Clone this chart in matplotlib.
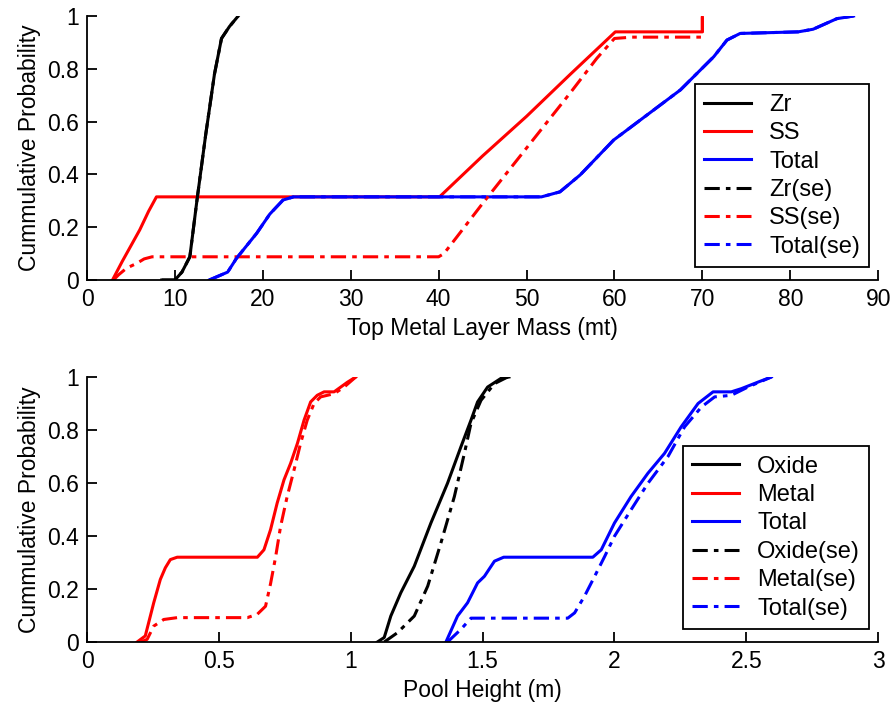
import matplotlib
matplotlib.use("Agg")
import matplotlib.pyplot as plt

plt.rcParams['font.family'] = ['Liberation Sans', 'DejaVu Sans']

# ---- top panel: top metal layer mass (mt) ----
zr_x = [8.5, 10.0, 10.8, 11.7, 12.5, 13.5, 14.5, 15.3, 16.2, 17.2]
zr_y = [0.0, 0.0, 0.03, 0.088, 0.3, 0.55, 0.78, 0.915, 0.96, 1.0]

ss_x = [2.9, 4.0, 5.0, 6.0, 7.0, 7.9, 40.1, 45.0, 50.0, 55.0, 60.1, 70.0, 70.0]
ss_y = [0.0, 0.07, 0.13, 0.19, 0.26, 0.315, 0.315, 0.47, 0.62, 0.78, 0.94, 0.94, 1.0]

tot_x = [13.9, 16.0, 17.0, 19.3, 20.8, 22.3, 23.5, 51.7, 53.8, 56.1, 59.9, 63.7,
         67.5, 71.3, 72.8, 74.3, 80.9, 82.6, 85.3, 87.2]
tot_y = [0.0, 0.03, 0.082, 0.177, 0.25, 0.303, 0.315, 0.315, 0.334, 0.398, 0.53,
         0.625, 0.72, 0.846, 0.909, 0.934, 0.94, 0.95, 0.99, 1.0]

zr_se_x = zr_x
zr_se_y = zr_y

ss_se_x = [3.0, 3.6, 4.5, 5.65, 6.5, 7.4, 40.0, 40.6, 42.0, 45.0, 50.0, 55.0,
           58.0, 60.0, 62.0, 70.0, 70.0]
ss_se_y = [0.0, 0.02, 0.045, 0.063, 0.08, 0.088, 0.088, 0.1, 0.16, 0.29, 0.5,
           0.71, 0.84, 0.915, 0.92, 0.92, 1.0]

tot_se_x = tot_x
tot_se_y = tot_y

# ---- bottom panel: pool height (m) ----
ox_x = [1.101, 1.127, 1.152, 1.19, 1.241, 1.304, 1.367, 1.418, 1.456, 1.481,
        1.519, 1.57, 1.60]
ox_y = [0.0, 0.017, 0.098, 0.186, 0.286, 0.449, 0.599, 0.737, 0.837, 0.906,
        0.962, 0.995, 1.0]

me_x = [0.19, 0.221, 0.253, 0.278, 0.297, 0.316, 0.342, 0.646, 0.671, 0.696,
        0.721, 0.747, 0.772, 0.798, 0.823, 0.848, 0.873, 0.899, 0.937, 0.962,
        0.987, 1.019]
me_y = [0.0, 0.023, 0.148, 0.236, 0.28, 0.311, 0.32, 0.32, 0.348, 0.424, 0.524,
        0.612, 0.674, 0.75, 0.837, 0.906, 0.931, 0.944, 0.944, 0.962, 0.98, 1.0]

to_x = [1.361, 1.405, 1.443, 1.481, 1.507, 1.545, 1.58, 1.918, 1.95, 2.0, 2.063,
        2.127, 2.19, 2.253, 2.317, 2.374, 2.443, 2.481, 2.545, 2.595]
to_y = [0.0, 0.098, 0.148, 0.223, 0.248, 0.305, 0.32, 0.32, 0.348, 0.449, 0.549,
        0.637, 0.712, 0.812, 0.9, 0.944, 0.944, 0.956, 0.981, 1.0]

ox_se_x = [1.127, 1.177, 1.241, 1.292, 1.342, 1.393, 1.431, 1.456, 1.494, 1.545,
           1.595]
ox_se_y = [0.0, 0.035, 0.098, 0.211, 0.374, 0.549, 0.712, 0.825, 0.912, 0.975, 1.0]

me_se_x = [0.203, 0.228, 0.253, 0.291, 0.342, 0.608, 0.646, 0.677, 0.696, 0.715,
           0.734, 0.759, 0.785, 0.81, 0.835, 0.861, 0.886, 0.937, 0.975, 1.019]
me_se_y = [0.0, 0.01, 0.06, 0.085, 0.092, 0.092, 0.105, 0.135, 0.22, 0.32, 0.436,
           0.549, 0.649, 0.75, 0.837, 0.9, 0.925, 0.937, 0.962, 1.0]

to_se_x = [1.367, 1.418, 1.456, 1.823, 1.849, 1.887, 1.925, 1.963, 2.0, 2.063,
           2.127, 2.203, 2.266, 2.33, 2.38, 2.443, 2.506, 2.595]
to_se_y = [0.0, 0.048, 0.09, 0.09, 0.11, 0.174, 0.248, 0.323, 0.399, 0.499, 0.599,
           0.7, 0.812, 0.887, 0.925, 0.931, 0.962, 1.0]

top_labels = ['Zr', 'SS', 'Total', 'Zr(se)', 'SS(se)', 'Total(se)']
bot_labels = ['Oxide', 'Metal', 'Total', 'Oxide(se)', 'Metal(se)', 'Total(se)']
yticks = [0, 0.2, 0.4, 0.6, 0.8, 1]
ytick_labels = ['0', '0.2', '0.4', '0.6', '0.8', '1']
top_xticks = [0, 10, 20, 30, 40, 50, 60, 70, 80, 90]
bot_xticks = [0, 0.5, 1, 1.5, 2, 2.5, 3]
bot_xtick_labels = ['0', '0.5', '1', '1.5', '2', '2.5', '3']

dashdot = (0, (5, 2, 1.5, 2))
lw = 2.2
fs = 16.5

fig = plt.figure(figsize=(8.96, 7.12), dpi=100)
ax1 = fig.add_axes([0.0971, 0.6067, 0.883, 0.3708])
ax2 = fig.add_axes([0.0971, 0.0983, 0.883, 0.3722])

ax1.plot(zr_x, zr_y, color='black', lw=lw, label=top_labels[0])
ax1.plot(ss_x, ss_y, color='red', lw=lw, label=top_labels[1])
ax1.plot(tot_x, tot_y, color='blue', lw=lw, label=top_labels[2])
ax1.plot(zr_se_x, zr_se_y, color='black', lw=lw, ls=dashdot, label=top_labels[3])
ax1.plot(ss_se_x, ss_se_y, color='red', lw=lw, ls=dashdot, label=top_labels[4])
ax1.plot(tot_se_x, tot_se_y, color='blue', lw=lw, ls=dashdot, label=top_labels[5])
ax1.set_xlim(0, 90)
ax1.set_xticks(top_xticks)
ax1.set_xlabel('Top Metal Layer Mass (mt)', fontsize=fs)

ax2.plot(ox_x, ox_y, color='black', lw=lw, label=bot_labels[0])
ax2.plot(me_x, me_y, color='red', lw=lw, label=bot_labels[1])
ax2.plot(to_x, to_y, color='blue', lw=lw, label=bot_labels[2])
ax2.plot(ox_se_x, ox_se_y, color='black', lw=lw, ls=dashdot, label=bot_labels[3])
ax2.plot(me_se_x, me_se_y, color='red', lw=lw, ls=dashdot, label=bot_labels[4])
ax2.plot(to_se_x, to_se_y, color='blue', lw=lw, ls=dashdot, label=bot_labels[5])
ax2.set_xlim(0, 3)
ax2.set_xticks(bot_xticks)
ax2.set_xticklabels(bot_xtick_labels)
ax2.set_xlabel('Pool Height (m)', fontsize=fs)

for ax in (ax1, ax2):
    ax.set_ylim(0, 1)
    ax.set_yticks(yticks)
    ax.set_yticklabels(ytick_labels)
    ax.set_ylabel('Cummulative Probability', fontsize=fs, labelpad=4)
    ax.spines['top'].set_visible(False)
    ax.spines['right'].set_visible(False)
    ax.spines['left'].set_linewidth(1.3)
    ax.spines['bottom'].set_linewidth(1.3)
    ax.tick_params(direction='in', length=7, width=1.3, labelsize=fs, pad=6)
    leg = ax.legend(loc='lower right', bbox_to_anchor=(0.989, 0.049),
                    borderaxespad=0, fancybox=False, framealpha=1,
                    edgecolor='black', fontsize=17, handlelength=2.0,
                    handletextpad=0.75, labelspacing=0.27, borderpad=0.4)
    leg.get_frame().set_linewidth(1.3)

fig.savefig('out.png', dpi=100)
